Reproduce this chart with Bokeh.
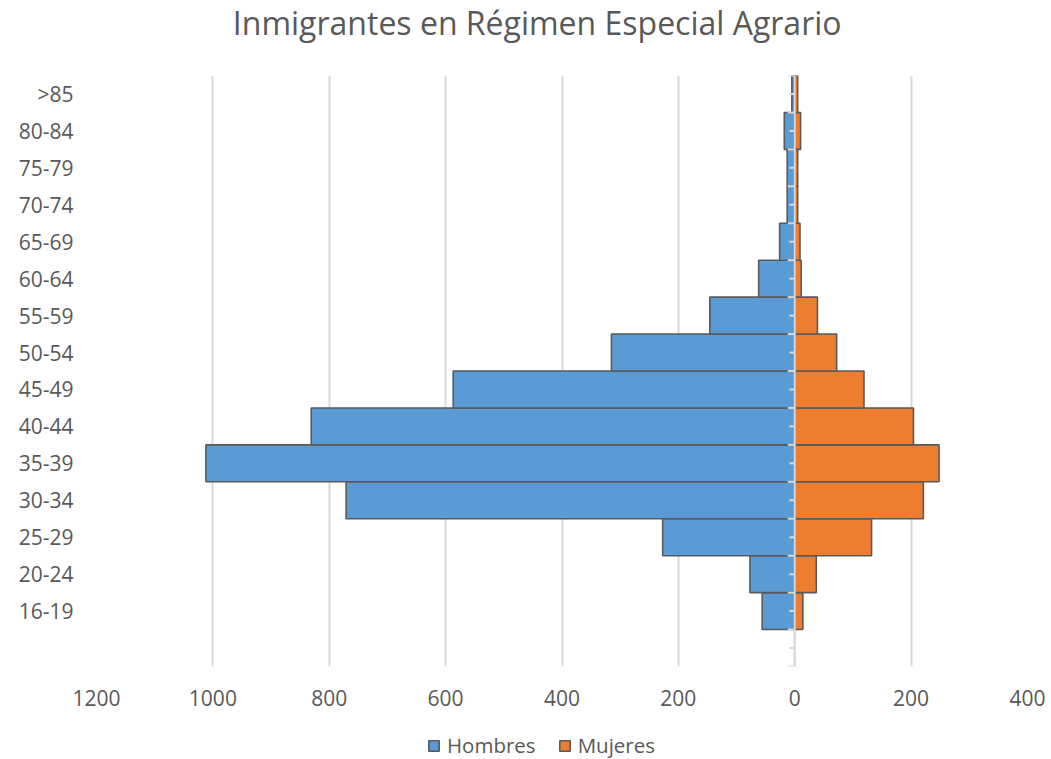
from bokeh.plotting import figure
from bokeh.layouts import column
from bokeh.models import (FactorRange, Range1d, FixedTicker, Legend, LegendItem, Span,
                          ColumnDataSource, Label)
from bokeh.embed import file_html
from bokeh.resources import INLINE

# ---- data ----
categories = ["16-19", "20-24", "25-29", "30-34", "35-39", "40-44", "45-49",
              "50-54", "55-59", "60-64", "65-69", "70-74", "75-79", "80-84", ">85"]
hombres = [56, 77, 227, 771, 1012, 831, 587, 315, 146, 62, 26, 13, 13, 18, 5]
mujeres = [14, 37, 132, 221, 248, 204, 119, 72, 39, 11, 9, 5, 5, 10, 5]
x_ticks = [-1200, -1000, -800, -600, -400, -200, 0, 200, 400]
x_tick_labels = ["1200", "1000", "800", "600", "400", "200", "0", "200", "400"]
series_names = ["Hombres", "Mujeres"]
blank_factor = " "

title_text = "Inmigrantes en Régimen Especial Agrario"
FONT = "Open Sans"
GRAY = "#595959"
BLUE = "#5b9bd5"
ORANGE = "#ed7d31"
EDGE = "#5a5a5a"
W = 1051
LEFT = 96

factors = [blank_factor] + categories


def bare_figure(h):
    f = figure(width=W, height=h, output_backend="svg", toolbar_location=None,
               x_range=Range1d(0, 1), y_range=Range1d(0, 1),
               x_axis_type=None, y_axis_type=None,
               min_border_left=0, min_border_right=0, min_border_top=0, min_border_bottom=0)
    f.grid.visible = False
    f.outline_line_color = None
    return f


# ---- title strip ----
pt = bare_figure(75)
pt.add_layout(Label(x=536.7 - LEFT, y=53.5, x_units="screen", y_units="screen", text=title_text,
                    text_font=FONT, text_font_size="32px", text_color=GRAY,
                    text_align="center", text_baseline="alphabetic"))

# ---- main chart ----
p = figure(width=W, height=645, output_backend="svg", toolbar_location=None,
           x_range=Range1d(x_ticks[0], x_ticks[-1]), y_range=FactorRange(factors=factors, range_padding=0),
           min_border_left=LEFT, min_border_right=24, min_border_top=0, min_border_bottom=54)

src = ColumnDataSource(dict(y=categories, h=[-v for v in hombres], m=mujeres))
p.hbar(y="y", left="h", right=0, height=1.0, source=src,
       fill_color=BLUE, line_color=EDGE, line_width=1.6)
p.hbar(y="y", left=0, right="m", height=1.0, source=src,
       fill_color=ORANGE, line_color=EDGE, line_width=1.6)

# category axis line at zero with tick marks
p.add_layout(Span(location=0, dimension="height", line_color="#d9d9d9", line_width=2))
tick_y = []
tick_x0 = []
for c in factors:
    tick_y.append((c, -0.5)); tick_x0.append(-12)
    tick_y.append((c, 0.0)); tick_x0.append(-9)
tick_y.append((factors[-1], 0.5)); tick_x0.append(-12)
p.segment(x0=tick_x0, x1=[0] * len(tick_x0), y0=tick_y, y1=tick_y, line_color="#d9d9d9", line_width=2)

p.xaxis.ticker = FixedTicker(ticks=x_ticks)
p.xaxis.major_label_overrides = {t: l for t, l in zip(x_ticks, x_tick_labels)}
p.xaxis.axis_line_color = None
p.xaxis.major_tick_line_color = None
p.xaxis.minor_tick_line_color = None
p.xaxis.major_tick_out = 0
p.xaxis.major_tick_in = 0
p.xaxis.major_label_standoff = 23
p.xaxis.major_label_text_font = FONT
p.xaxis.major_label_text_font_size = "21px"
p.xaxis.major_label_text_color = GRAY

p.yaxis.axis_line_color = None
p.yaxis.major_tick_line_color = None
p.yaxis.minor_tick_line_color = None
p.yaxis.major_tick_out = 0
p.yaxis.major_tick_in = 0
p.yaxis.major_label_standoff = 23
p.yaxis.major_label_text_font = FONT
p.yaxis.major_label_text_font_size = "21px"
p.yaxis.major_label_text_color = GRAY

p.xgrid.ticker = FixedTicker(ticks=x_ticks)
p.xgrid.grid_line_color = "#d9d9d9"
p.xgrid.grid_line_width = 2
p.ygrid.grid_line_color = None
p.outline_line_color = None

# ---- legend strip (placeholder renderers sit outside the visible range) ----
pl = bare_figure(39)
proxy = ColumnDataSource(dict(y=[-5], l=[0], r=[0]))
lh = pl.hbar(y="y", left="l", right="r", height=1.0, source=proxy,
             fill_color=BLUE, line_color=EDGE, line_width=1.6)
lm = pl.hbar(y="y", left="l", right="r", height=1.0, source=proxy,
             fill_color=ORANGE, line_color=EDGE, line_width=1.6)
legend = Legend(items=[LegendItem(label=series_names[0], renderers=[lh]),
                       LegendItem(label=series_names[1], renderers=[lm])],
                orientation="horizontal", location=(427 - LEFT, 0),
                label_text_font=FONT, label_text_font_size="20.5px", label_text_color=GRAY,
                glyph_width=13, glyph_height=13, spacing=22, label_standoff=7,
                border_line_color=None, background_fill_alpha=0, padding=0, margin=0)
pl.add_layout(legend, "center")

layout = column(pt, p, pl, spacing=0)
open("out.html", "w").write(file_html(layout, INLINE))
